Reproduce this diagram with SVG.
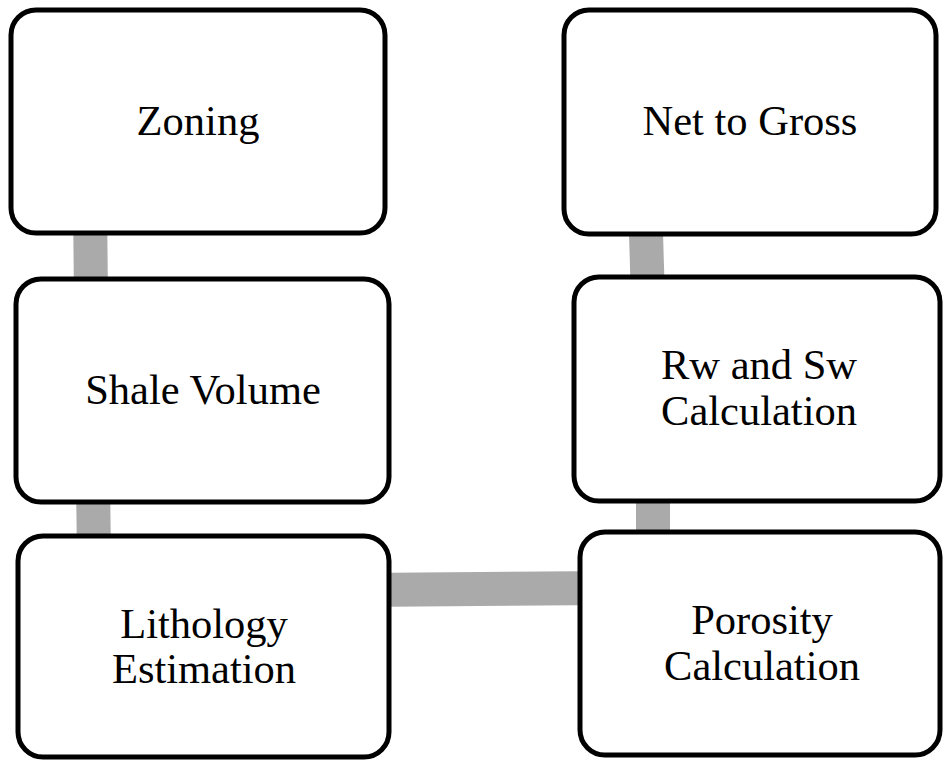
<svg xmlns="http://www.w3.org/2000/svg" width="944" height="760" viewBox="0 0 944 760">
  <style>
    .box { fill: #ffffff; stroke: #000000; stroke-width: 5; }
    .conn { stroke: #aaaaaa; stroke-width: 34; fill: none; }
    .lbl { font-family: "Liberation Serif", "Times New Roman", serif; font-size: 42.5px; fill: #000000; text-anchor: middle; }
  </style>
  <rect width="944" height="760" fill="#ffffff"/>
  <g id="connectors">
    <line class="conn" x1="90" y1="200" x2="91" y2="300"/>
    <line class="conn" x1="93" y1="480" x2="94" y2="560"/>
    <line class="conn" x1="360" y1="590" x2="610" y2="588"/>
    <line class="conn" x1="653" y1="480" x2="653" y2="560"/>
    <line class="conn" x1="645" y1="200" x2="648" y2="300"/>
  </g>
  <g id="zoning">
    <rect class="box" x="11" y="10" width="374" height="223" rx="25"/>
    <text class="lbl" x="198" y="135">Zoning</text>
  </g>
  <g id="net-to-gross">
    <rect class="box" x="564" y="10" width="372" height="224" rx="25"/>
    <text class="lbl" x="750" y="135">Net to Gross</text>
  </g>
  <g id="shale-volume">
    <rect class="box" x="16" y="279" width="373" height="223" rx="25"/>
    <text class="lbl" x="203" y="404">Shale Volume</text>
  </g>
  <g id="rw-sw">
    <rect class="box" x="574" y="277" width="366" height="224" rx="25"/>
    <text class="lbl" x="759" y="379">Rw and Sw</text>
    <text class="lbl" x="759" y="425">Calculation</text>
  </g>
  <g id="lithology">
    <rect class="box" x="18" y="536" width="371" height="221" rx="25"/>
    <text class="lbl" x="204" y="638">Lithology</text>
    <text class="lbl" x="204" y="683">Estimation</text>
  </g>
  <g id="porosity">
    <rect class="box" x="580" y="532" width="360" height="223" rx="25"/>
    <text class="lbl" x="762" y="634">Porosity</text>
    <text class="lbl" x="762" y="680">Calculation</text>
  </g>
</svg>
